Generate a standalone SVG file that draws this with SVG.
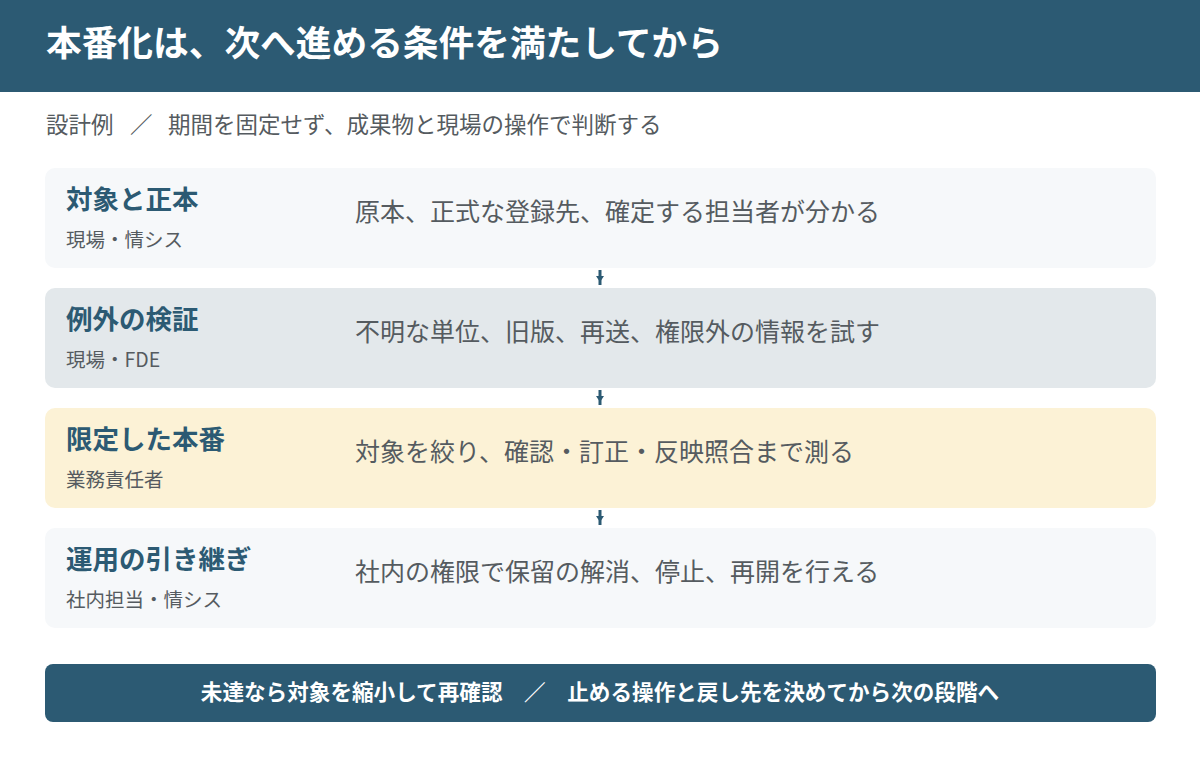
<svg xmlns="http://www.w3.org/2000/svg" width="1200" height="760" viewBox="0 0 1200 760">
<defs>
<style>
text{font-family:"Noto Sans CJK JP","Noto Sans",sans-serif;}
.title{font-size:35.7px;font-weight:700;fill:#ffffff;}
.sub{font-size:22.5px;fill:#555b60;}
.ct{font-size:26.5px;font-weight:700;fill:#2c5a73;}
.co{font-size:19.5px;fill:#555b60;}
.cd{font-size:25px;fill:#555b60;}
.foot{font-size:21.6px;font-weight:700;fill:#ffffff;}
.conn{stroke:#2c5a73;stroke-width:3;fill:none;}
.head{fill:#2c5a73;}
</style>
</defs>
<rect x="0" y="0" width="1200" height="760" fill="#ffffff"/>
<g id="header">
<rect x="0" y="0" width="1200" height="92" fill="#2c5a73"/>
<text class="title" x="46" y="56">本番化は、次へ進める条件を満たしてから</text>
</g>
<text class="sub" y="132.5"><tspan x="46">設計例</tspan><tspan x="130">／</tspan><tspan x="168">期間を固定せず、成果物と現場の操作で判断する</tspan></text>
<g id="connectors">
<line class="conn" x1="600" y1="270" x2="600" y2="285"/>
<polygon class="head" points="596,276 604,276 600,282"/>
<line class="conn" x1="600" y1="390" x2="600" y2="405"/>
<polygon class="head" points="596,396 604,396 600,402"/>
<line class="conn" x1="600" y1="510" x2="600" y2="525"/>
<polygon class="head" points="596,516 604,516 600,522"/>
</g>
<g id="step1">
<rect x="45" y="168" width="1111" height="100" rx="10" fill="#f6f8fa"/>
<text class="ct" x="66" y="209">対象と正本</text>
<text class="co" x="66" y="247">現場・情シス</text>
<text class="cd" x="355" y="221">原本、正式な登録先、確定する担当者が分かる</text>
</g>
<g id="step2">
<rect x="45" y="288" width="1111" height="100" rx="10" fill="#e3e8eb"/>
<text class="ct" x="66" y="329">例外の検証</text>
<text class="co" x="66" y="367">現場・FDE</text>
<text class="cd" x="355" y="341">不明な単位、旧版、再送、権限外の情報を試す</text>
</g>
<g id="step3">
<rect x="45" y="408" width="1111" height="100" rx="10" fill="#fcf2d6"/>
<text class="ct" x="66" y="449">限定した本番</text>
<text class="co" x="66" y="487">業務責任者</text>
<text class="cd" x="355" y="461">対象を絞り、確認・訂正・反映照合まで測る</text>
</g>
<g id="step4">
<rect x="45" y="528" width="1111" height="100" rx="10" fill="#f6f8fa"/>
<text class="ct" x="66" y="569">運用の引き継ぎ</text>
<text class="co" x="66" y="607">社内担当・情シス</text>
<text class="cd" x="355" y="581">社内の権限で保留の解消、停止、再開を行える</text>
</g>
<g id="footer">
<rect x="45" y="664" width="1111" height="58" rx="8" fill="#2c5a73"/>
<text class="foot" x="600" y="700" text-anchor="middle">未達なら対象を縮小して再確認　／　止める操作と戻し先を決めてから次の段階へ</text>
</g>
</svg>
